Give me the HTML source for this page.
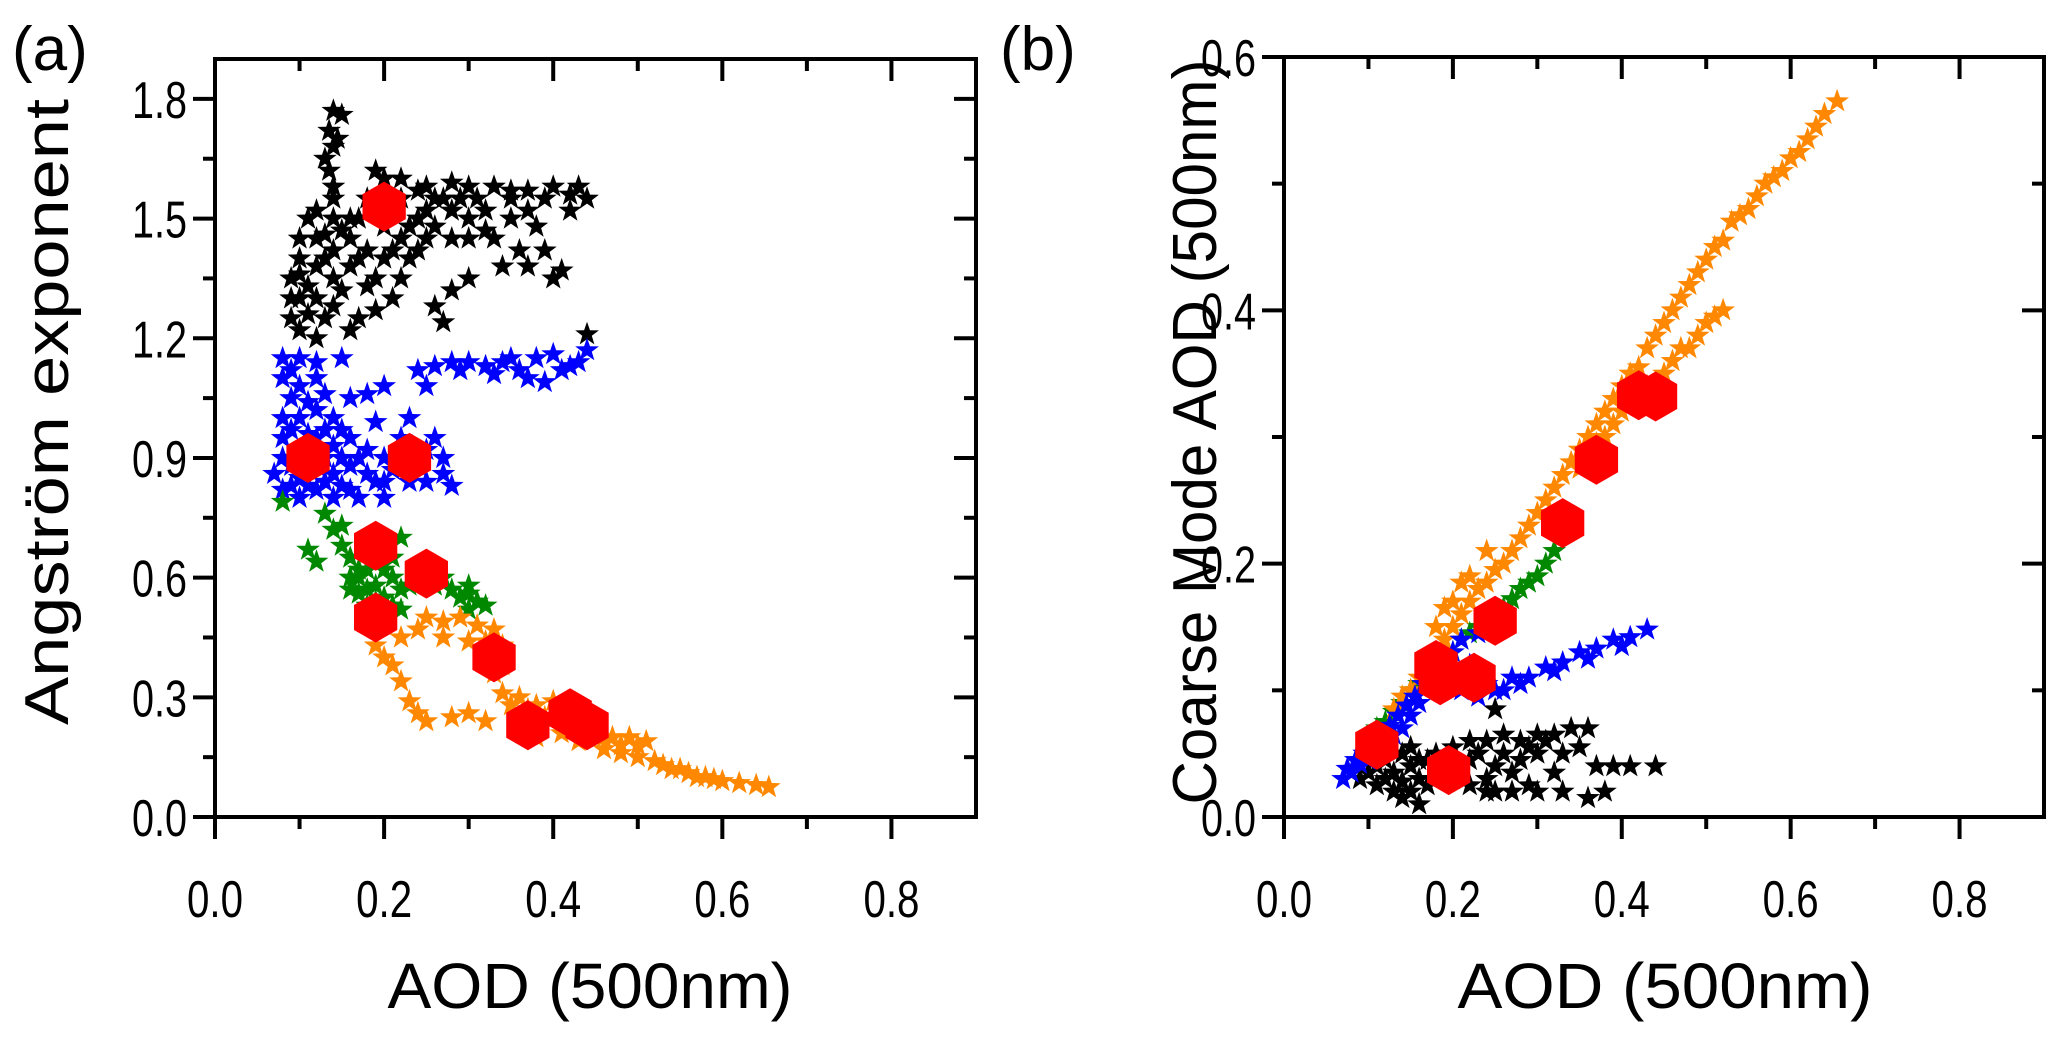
<!DOCTYPE html>
<html><head><meta charset="utf-8"><style>
body{margin:0;background:#fff}
svg{display:block;font-family:"Liberation Sans",Arial,sans-serif}
</style></head><body>
<svg id="fig" width="2067" height="1038" viewBox="0 0 2067 1038">
<text x="12" y="70" font-size="62">(a)</text>
<text x="1000" y="70" font-size="62">(b)</text>
<text x="590" y="1008" font-size="64" text-anchor="middle" textLength="405" lengthAdjust="spacingAndGlyphs">AOD (500nm)</text>
<text x="1665" y="1008" font-size="64" text-anchor="middle" textLength="415" lengthAdjust="spacingAndGlyphs">AOD (500nm)</text>
<text transform="translate(68,412) rotate(-90)" font-size="62" text-anchor="middle" textLength="626" lengthAdjust="spacingAndGlyphs">Angström exponent</text>
<text transform="translate(1216,432) rotate(-90)" font-size="62" text-anchor="middle" textLength="745" lengthAdjust="spacingAndGlyphs">Coarse Mode AOD (500nm)</text>
</svg>
<script>
const blackA=[[0.14,1.77],[0.15,1.76],[0.135,1.72],[0.14,1.68],[0.13,1.65],[0.135,1.62],[0.14,1.58],[0.145,1.7],[0.14,1.55],[0.19,1.62],[0.2,1.6],[0.22,1.6],[0.25,1.58],[0.28,1.59],[0.3,1.58],[0.33,1.58],[0.35,1.57],[0.37,1.57],[0.4,1.58],[0.42,1.56],[0.44,1.55],[0.1,1.45],[0.1,1.4],[0.09,1.35],[0.09,1.3],[0.09,1.25],[0.1,1.22],[0.12,1.2],[0.12,1.3],[0.12,1.38],[0.12,1.45],[0.14,1.5],[0.14,1.42],[0.14,1.35],[0.14,1.28],[0.16,1.45],[0.16,1.38],[0.17,1.5],[0.18,1.42],[0.18,1.33],[0.2,1.48],[0.2,1.4],[0.22,1.55],[0.22,1.45],[0.22,1.35],[0.24,1.5],[0.24,1.42],[0.26,1.55],[0.26,1.48],[0.28,1.52],[0.3,1.5],[0.3,1.45],[0.32,1.52],[0.33,1.45],[0.35,1.5],[0.36,1.42],[0.37,1.38],[0.38,1.48],[0.39,1.42],[0.4,1.35],[0.41,1.37],[0.34,1.38],[0.3,1.35],[0.28,1.32],[0.26,1.28],[0.27,1.24],[0.17,1.25],[0.16,1.22],[0.19,1.27],[0.44,1.21],[0.11,1.5],[0.18,1.55],[0.11,1.33],[0.13,1.25],[0.15,1.32],[0.2,1.52],[0.16,1.5],[0.1,1.3],[0.11,1.26],[0.13,1.4],[0.15,1.47],[0.17,1.4],[0.19,1.35],[0.21,1.42],[0.23,1.48],[0.25,1.52],[0.27,1.55],[0.29,1.55],[0.31,1.55],[0.25,1.45],[0.28,1.45],[0.32,1.47],[0.35,1.55],[0.37,1.52],[0.39,1.55],[0.42,1.52],[0.43,1.58],[0.21,1.3],[0.23,1.4],[0.1,1.36],[0.12,1.52],[0.13,1.46],[0.2,1.56],[0.24,1.57]];
const blueA=[[0.08,1.15],[0.1,1.15],[0.12,1.14],[0.08,1.1],[0.09,1.05],[0.08,1.0],[0.08,0.95],[0.08,0.9],[0.07,0.86],[0.08,0.82],[0.1,0.8],[0.1,0.85],[0.1,0.92],[0.1,1.0],[0.1,1.08],[0.12,1.1],[0.12,1.02],[0.12,0.95],[0.12,0.88],[0.12,0.82],[0.14,0.8],[0.14,0.86],[0.14,0.93],[0.14,1.0],[0.15,1.15],[0.16,1.05],[0.16,0.95],[0.16,0.88],[0.17,0.8],[0.18,0.86],[0.18,0.92],[0.19,0.99],[0.2,0.84],[0.21,0.87],[0.22,0.95],[0.23,1.0],[0.24,0.88],[0.25,0.84],[0.26,0.95],[0.27,0.9],[0.27,0.86],[0.28,0.83],[0.18,1.06],[0.2,1.08],[0.24,1.12],[0.26,1.13],[0.28,1.14],[0.3,1.14],[0.32,1.13],[0.34,1.14],[0.36,1.12],[0.37,1.1],[0.38,1.15],[0.4,1.16],[0.42,1.13],[0.43,1.14],[0.44,1.17],[0.25,1.08],[0.39,1.09],[0.2,0.8],[0.09,0.97],[0.11,0.88],[0.13,0.84],[0.15,0.9],[0.11,1.04],[0.09,0.88],[0.09,0.83],[0.11,0.83],[0.13,0.9],[0.13,0.97],[0.15,0.83],[0.15,0.97],[0.16,0.82],[0.17,0.9],[0.19,0.84],[0.2,0.9],[0.22,0.88],[0.23,0.84],[0.09,1.12],[0.11,0.96],[0.13,1.06],[0.25,0.92],[0.33,1.11],[0.35,1.15],[0.41,1.12],[0.29,1.12]];
const greenA=[[0.08,0.79],[0.11,0.67],[0.12,0.64],[0.13,0.76],[0.14,0.72],[0.15,0.68],[0.16,0.65],[0.16,0.6],[0.17,0.56],[0.18,0.62],[0.19,0.58],[0.2,0.55],[0.21,0.6],[0.21,0.65],[0.22,0.7],[0.22,0.52],[0.2,0.5],[0.23,0.58],[0.24,0.62],[0.18,0.53],[0.16,0.57],[0.26,0.58],[0.28,0.57],[0.29,0.55],[0.3,0.56],[0.31,0.54],[0.32,0.53],[0.3,0.52],[0.17,0.62],[0.19,0.65],[0.15,0.73],[0.17,0.6],[0.18,0.57],[0.2,0.62],[0.22,0.57],[0.19,0.54],[0.21,0.53],[0.27,0.6],[0.3,0.58]];
const orangeA=[[0.19,0.43],[0.2,0.4],[0.21,0.38],[0.22,0.34],[0.23,0.29],[0.24,0.26],[0.25,0.24],[0.22,0.45],[0.25,0.5],[0.27,0.49],[0.29,0.5],[0.31,0.48],[0.33,0.47],[0.34,0.43],[0.33,0.36],[0.34,0.31],[0.35,0.28],[0.37,0.27],[0.39,0.25],[0.4,0.29],[0.42,0.27],[0.44,0.24],[0.45,0.21],[0.47,0.2],[0.49,0.2],[0.51,0.19],[0.5,0.15],[0.52,0.14],[0.54,0.12],[0.56,0.11],[0.58,0.1],[0.6,0.09],[0.62,0.085],[0.64,0.08],[0.655,0.075],[0.3,0.26],[0.28,0.25],[0.32,0.24],[0.36,0.22],[0.38,0.2],[0.41,0.21],[0.43,0.19],[0.46,0.17],[0.48,0.16],[0.27,0.45],[0.3,0.44],[0.24,0.47],[0.32,0.44],[0.34,0.38],[0.36,0.3],[0.38,0.28],[0.41,0.24],[0.43,0.22],[0.46,0.2],[0.48,0.18],[0.5,0.18],[0.53,0.13],[0.55,0.12],[0.57,0.1],[0.59,0.095]];
const hexA=[[0.2,1.53],[0.11,0.9],[0.23,0.9],[0.19,0.68],[0.25,0.61],[0.19,0.5],[0.33,0.4],[0.37,0.23],[0.42,0.26],[0.44,0.23]];
const blackB=[[0.09,0.03],[0.1,0.035],[0.11,0.04],[0.12,0.03],[0.13,0.02],[0.14,0.015],[0.15,0.02],[0.16,0.03],[0.17,0.045],[0.18,0.05],[0.2,0.055],[0.22,0.06],[0.24,0.06],[0.26,0.065],[0.28,0.06],[0.3,0.065],[0.32,0.065],[0.34,0.07],[0.36,0.07],[0.22,0.045],[0.25,0.04],[0.28,0.045],[0.3,0.05],[0.33,0.05],[0.35,0.055],[0.37,0.04],[0.39,0.04],[0.41,0.04],[0.44,0.04],[0.22,0.025],[0.25,0.02],[0.27,0.02],[0.3,0.02],[0.33,0.02],[0.36,0.015],[0.38,0.02],[0.14,0.05],[0.12,0.045],[0.16,0.01],[0.25,0.085],[0.2,0.03],[0.15,0.04],[0.18,0.03],[0.13,0.035],[0.14,0.028],[0.16,0.045],[0.17,0.025],[0.19,0.04],[0.21,0.04],[0.23,0.05],[0.24,0.03],[0.26,0.05],[0.27,0.035],[0.29,0.055],[0.31,0.06],[0.24,0.02],[0.29,0.025],[0.32,0.035],[0.11,0.025],[0.15,0.055]];
const blueB=[[0.07,0.03],[0.075,0.038],[0.085,0.045],[0.095,0.05],[0.105,0.055],[0.115,0.065],[0.125,0.072],[0.135,0.08],[0.145,0.088],[0.155,0.095],[0.165,0.105],[0.175,0.112],[0.19,0.12],[0.2,0.13],[0.21,0.14],[0.23,0.145],[0.21,0.1],[0.23,0.095],[0.25,0.1],[0.27,0.11],[0.29,0.11],[0.31,0.118],[0.33,0.122],[0.35,0.13],[0.37,0.133],[0.39,0.14],[0.41,0.142],[0.43,0.148],[0.1,0.045],[0.12,0.058],[0.14,0.07],[0.08,0.035],[0.09,0.042],[0.11,0.05],[0.13,0.065],[0.15,0.08],[0.16,0.09],[0.18,0.1],[0.2,0.11],[0.22,0.12],[0.24,0.105],[0.26,0.1],[0.28,0.105],[0.32,0.115],[0.36,0.125],[0.4,0.135]];
const greenB=[[0.1,0.06],[0.12,0.075],[0.14,0.09],[0.16,0.105],[0.18,0.12],[0.2,0.13],[0.22,0.145],[0.24,0.155],[0.26,0.165],[0.28,0.18],[0.3,0.19],[0.31,0.2],[0.32,0.21],[0.13,0.083],[0.17,0.112],[0.11,0.07],[0.15,0.1],[0.19,0.128],[0.21,0.14],[0.23,0.15],[0.25,0.16],[0.27,0.172],[0.29,0.185]];
const orangeB=[[0.13,0.085],[0.15,0.1],[0.17,0.12],[0.19,0.14],[0.21,0.16],[0.23,0.18],[0.25,0.195],[0.27,0.21],[0.29,0.23],[0.31,0.25],[0.33,0.27],[0.35,0.29],[0.37,0.31],[0.39,0.33],[0.41,0.35],[0.43,0.37],[0.45,0.39],[0.47,0.41],[0.49,0.43],[0.51,0.45],[0.53,0.47],[0.55,0.48],[0.57,0.5],[0.59,0.51],[0.61,0.525],[0.63,0.545],[0.655,0.565],[0.36,0.3],[0.4,0.32],[0.44,0.34],[0.48,0.37],[0.5,0.39],[0.52,0.4],[0.46,0.36],[0.22,0.19],[0.2,0.17],[0.18,0.15],[0.24,0.21],[0.42,0.33],[0.38,0.3],[0.14,0.095],[0.16,0.11],[0.2,0.15],[0.22,0.17],[0.24,0.185],[0.26,0.2],[0.28,0.22],[0.3,0.24],[0.32,0.26],[0.34,0.28],[0.36,0.285],[0.38,0.32],[0.4,0.34],[0.42,0.355],[0.44,0.38],[0.46,0.4],[0.48,0.42],[0.5,0.44],[0.52,0.455],[0.54,0.475],[0.56,0.49],[0.58,0.505],[0.6,0.52],[0.62,0.535],[0.64,0.555],[0.47,0.37],[0.49,0.38],[0.51,0.395],[0.45,0.35],[0.43,0.34],[0.41,0.325],[0.39,0.31],[0.37,0.295],[0.35,0.275],[0.19,0.165],[0.21,0.185]];
const hexB=[[0.11,0.057],[0.195,0.037],[0.18,0.12],[0.185,0.108],[0.225,0.11],[0.25,0.155],[0.33,0.232],[0.37,0.282],[0.42,0.333],[0.44,0.332]];
const xTicks=["0.0","0.2","0.4","0.6","0.8"];
const yTicksA=["0.0","0.3","0.6","0.9","1.2","1.5","1.8"];
const yTicksB=["0.0","0.2","0.4","0.6"];

const NS="http://www.w3.org/2000/svg";
const svg=document.getElementById('fig');
function mk(tag,attrs,parent){const e=document.createElementNS(NS,tag);for(const k in attrs)e.setAttribute(k,attrs[k]);(parent||svg).appendChild(e);return e;}

function panel(id,L,R,T,B,xmax,ymax,yTicks,yMinor,series,hexes){
  const sx=v=>L+v/xmax*(R-L), sy=v=>B-v/ymax*(B-T);
  const g=mk('g',{});
  
  
  series.forEach(([pts,col,name])=>{
    const sg=mk('g',{fill:col},g);
    
    
    pts.forEach(p=>{
      const cx=sx(p[0]),cy=sy(p[1]);let d='';
      for(let i=0;i<10;i++){const r=i%2?5:12.5;const a=-Math.PI/2+i*Math.PI/5;d+=(i?'L':'M')+(cx+r*Math.cos(a)).toFixed(1)+','+(cy+r*Math.sin(a)).toFixed(1);}
      const s=mk('path',{d:d+'Z'},sg);
      
      
    });
  });
  const hg=mk('g',{fill:'#ff0000'},g);
  
  
  hexes.forEach(p=>{
    const cx=sx(p[0]),cy=sy(p[1]);let d='';
    for(let i=0;i<6;i++){const a=-Math.PI/2+i*Math.PI/3;d+=(i?'L':'M')+(cx+25*Math.cos(a)).toFixed(1)+','+(cy+25*Math.sin(a)).toFixed(1);}
    const h=mk('path',{d:d+'Z'},hg);
    
    
  });
  const ax=mk('g',{stroke:'#000','stroke-width':4,fill:'none'},g);
  
  
  mk('rect',{x:L,y:T,width:R-L,height:B-T},ax);
  for(let i=0;i<=8;i++){const v=i*0.1,x=sx(v),maj=i%2==0;
    mk('line',{x1:x,y1:B,x2:x,y2:B+(maj?22:12)},ax);
    mk('line',{x1:x,y1:T,x2:x,y2:T+(maj?22:12)},ax);}
  xTicks.forEach(t=>{const tx=mk('text',{x:sx(parseFloat(t)),y:B+100,'font-size':52,'text-anchor':'middle',textLength:56,lengthAdjust:'spacingAndGlyphs',fill:'#000',stroke:'none'},g);tx.textContent=t;
    });
  const step=parseFloat(yTicks[1]);
  for(let v=0;v<=ymax+1e-9;v+=yMinor){const y=sy(v);const maj=Math.abs(v/step-Math.round(v/step))<1e-6;
    mk('line',{x1:L,y1:y,x2:L-(maj?22:12),y2:y},ax);
    mk('line',{x1:R,y1:y,x2:R-(maj?22:12),y2:y},ax);}
  yTicks.forEach(t=>{const tx=mk('text',{x:L-28,y:sy(parseFloat(t))+19,'font-size':52,'text-anchor':'end',textLength:55,lengthAdjust:'spacingAndGlyphs',fill:'#000',stroke:'none'},g);tx.textContent=t;
    });
}
panel('a',215,976,59,817,0.9,1.9,yTicksA,0.15,[[blackA,'#000','black'],[blueA,'#0000ff','blue'],[greenA,'#008800','green'],[orangeA,'#ff8800','orange']],hexA);
panel('b',1284,2044,57,817,0.9,0.6,yTicksB,0.1,[[blackB,'#000','black'],[greenB,'#008800','green'],[orangeB,'#ff8800','orange'],[blueB,'#0000ff','blue']],hexB);
</script>
</body></html>
